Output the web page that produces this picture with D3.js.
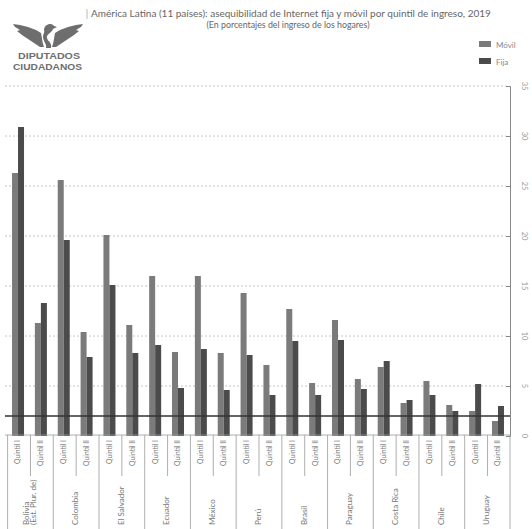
<!DOCTYPE html>
<html>
<head>
<meta charset="utf-8">
<script src="https://cdn.jsdelivr.net/npm/d3@7"></script>
<style>
  body { margin: 0; background: #fff; }
  svg { display: block; font-family: Lato, "Open Sans", sans-serif; }
</style>
</head>
<body>
<div id="chart"></div>
<script>
const countries = [
  ["Bolivia", "(Est. Plur. de)"], ["Colombia"], ["El Salvador"], ["Ecuador"],
  ["México"], ["Perú"], ["Brasil"], ["Paraguay"], ["Costa Rica"], ["Chile"], ["Uruguay"],
];
const quintiles = ["Quintil I", "Quintil II"];
const series = ["Móvil", "Fija"];
const movil = [26.3, 11.3, 25.6, 10.4, 20.1, 11.1, 16.0, 8.4, 16.0, 8.3, 14.3, 7.1,
  12.7, 5.3, 11.6, 5.7, 6.9, 3.3, 5.5, 3.1, 2.5, 1.5];
const fija = [30.9, 13.3, 19.6, 7.9, 15.1, 8.3, 9.1, 4.8, 8.7, 4.6, 8.1, 4.1,
  9.5, 4.1, 9.6, 4.7, 7.5, 3.6, 4.1, 2.5, 5.2, 3.0];
const yTicks = [0, 5, 10, 15, 20, 25, 30, 35];
const threshold = 2;

const colors = { "Móvil": "#7b7b7b", "Fija": "#4b4b4b" };
const width = 532, height = 529;

const data = [];
countries.forEach((c, i) => quintiles.forEach((q, j) => {
  const k = i * 2 + j;
  data.push({ key: k, country: i, quintil: q, "Móvil": movil[k], "Fija": fija[k] });
}));

const svg = d3.select("#chart").append("svg").attr("width", width).attr("height", height);

// logo (eagle + name)
const logo = svg.append("g").attr("fill", "#6e6e6e");
logo.append("path").attr("d",
  "M13,24 L20,25 L28,27 L36,30 L41,33 C42,37 42,42 44,47 L40,47 C34,43 28,39 22,35 " +
  "L17,31 L20,30 L15,27 Z");
logo.append("path").attr("d",
  "M83,24 L76,25 L68,27 L60,30 L55,33 C54,37 54,42 52,47 L56,47 C62,43 68,39 74,35 " +
  "L79,31 L76,30 L81,27 Z");
logo.append("path").attr("d",
  "M44,30 C44,24 52,22 54,26 L57,27 L53,29 C52,33 46,34 47,38 C48,42 52,42 51,48 " +
  "L46,48 C47,44 43,41 43,37 C43,34 45,32 44,30 Z");
const logoFont = "'Liberation Sans', Arial, sans-serif";
logo.append("text").attr("x", 49).attr("y", 59).attr("text-anchor", "middle")
  .attr("font-size", 9.5).attr("font-weight", 700).attr("font-family", logoFont)
  .attr("textLength", 62).attr("lengthAdjust", "spacingAndGlyphs").text("DIPUTADOS");
logo.append("text").attr("x", 47.5).attr("y", 69.8).attr("text-anchor", "middle")
  .attr("font-size", 9.5).attr("font-weight", 700).attr("font-family", logoFont)
  .attr("textLength", 69).attr("lengthAdjust", "spacingAndGlyphs").text("CIUDADANOS");

// titles
svg.append("line").attr("x1", 87).attr("x2", 87).attr("y1", 9).attr("y2", 19)
  .attr("stroke", "#bbb");
svg.append("text").attr("x", 91).attr("y", 17).attr("font-size", 10).attr("fill", "#666")
  .text("América Latina (11 países): asequibilidad de Internet fija y móvil por quintil de ingreso, 2019");
svg.append("text").attr("x", 288).attr("y", 27.5).attr("text-anchor", "middle")
  .attr("font-size", 8.8).attr("fill", "#666")
  .text("(En porcentajes del ingreso de los hogares)");

// legend
series.forEach((s, i) => {
  svg.append("rect").attr("x", 479).attr("y", 41 + i * 17).attr("width", 12).attr("height", 6)
    .attr("fill", colors[s]);
  svg.append("text").attr("x", 496).attr("y", 47.5 + i * 17).attr("font-size", 8)
    .attr("fill", "#888").text(s);
});

const x = d3.scaleBand().domain(data.map((d) => d.key)).range([6.6, 509.4]).padding(0);
const sub = d3.scaleBand().domain(series).range([-6, 6]);
const y = d3.scaleLinear().domain([0, 35]).range([436, 86]);
const axisX = 510, left = 5;

// gridlines
svg.append("g").selectAll("line").data(yTicks.filter((t) => t > 0)).join("line")
  .attr("x1", left).attr("x2", axisX - 4)
  .attr("y1", (d) => y(d)).attr("y2", (d) => y(d))
  .attr("stroke", "#c4c4c4").attr("stroke-dasharray", "2,2");

// right axis
const yAxisG = svg.append("g").attr("transform", `translate(${axisX},0)`)
  .call(d3.axisLeft(y).tickValues(yTicks).tickSize(4).tickFormat(""));
yAxisG.select(".domain").attr("stroke", "#888");
yAxisG.selectAll(".tick line").attr("stroke", "#888");
svg.append("g").selectAll("text").data(yTicks).join("text")
  .attr("transform", (d) => `translate(${axisX + 15},${y(d)}) rotate(90)`)
  .attr("text-anchor", "middle").attr("dy", "0.35em")
  .attr("font-size", 7.5).attr("fill", "#999").text((d) => d);

// bars
const barG = svg.append("g").selectAll("g").data(data).join("g")
  .attr("transform", (d) => `translate(${x(d.key) + x.bandwidth() / 2},0)`);
series.forEach((s) => {
  barG.append("rect")
    .attr("x", sub(s)).attr("width", sub.bandwidth())
    .attr("y", (d) => y(d[s])).attr("height", (d) => y(0) - y(d[s]))
    .attr("fill", colors[s]);
});

// threshold
svg.append("line").attr("x1", left).attr("x2", axisX)
  .attr("y1", y(threshold)).attr("y2", y(threshold))
  .attr("stroke", "#333").attr("stroke-width", 1.5);

// category boxes
const boxTop = y(0) - 1;
const boxes = svg.append("g").attr("stroke", "#999").attr("stroke-width", 0.8);
boxes.append("line").attr("x1", left).attr("x2", axisX).attr("y1", boxTop).attr("y2", boxTop);
countries.forEach((c, i) => {
  const x0 = x(i * 2) + 1;
  boxes.append("line").attr("x1", x0).attr("x2", x0).attr("y1", boxTop).attr("y2", height);
  const xm = x(i * 2 + 1) + 1;
  boxes.append("line").attr("x1", xm).attr("x2", xm).attr("y1", boxTop).attr("y2", 476);
});
boxes.append("line").attr("x1", axisX).attr("x2", axisX).attr("y1", boxTop).attr("y2", height);

svg.append("g").selectAll("text").data(data).join("text")
  .attr("transform", (d) => `translate(${x(d.key) + x.bandwidth() / 2},440) rotate(-90)`)
  .attr("text-anchor", "end").attr("dy", "0.35em")
  .attr("font-size", 6.8).attr("fill", "#777").text((d) => d.quintil);

countries.forEach((c, i) => {
  const cx = x(i * 2) + x.bandwidth();
  c.forEach((line, j) => {
    svg.append("text")
      .attr("transform", `translate(${cx + (j - (c.length - 1) / 2) * 7},525) rotate(-90)`)
      .attr("text-anchor", "start").attr("dy", "0.35em")
      .attr("font-size", 8).attr("fill", "#777").text(line);
  });
});
</script>
</body>
</html>
